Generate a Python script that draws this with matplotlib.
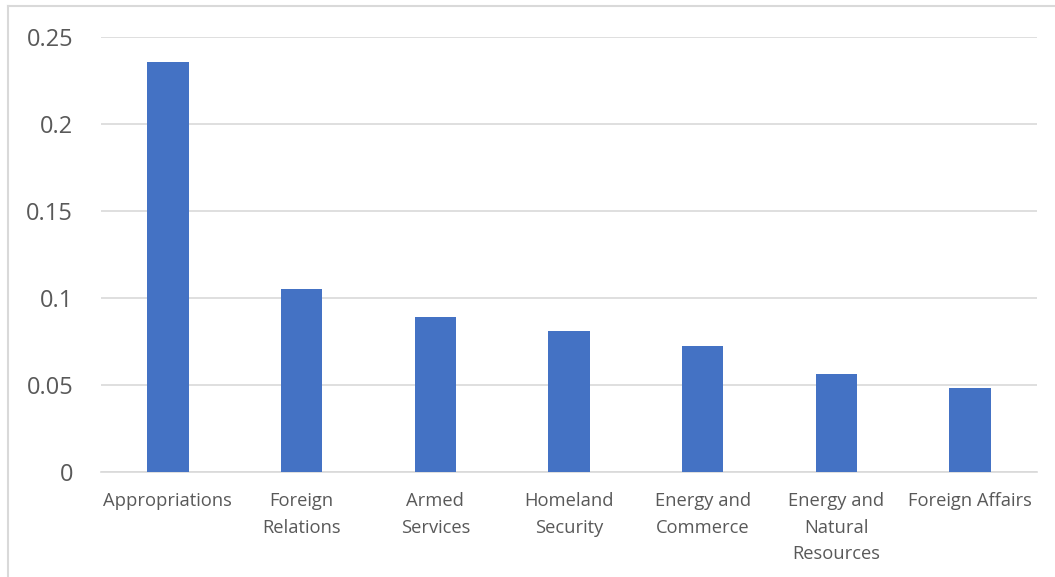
import matplotlib.pyplot as plt
from matplotlib.lines import Line2D

committees = ["Appropriations", "Foreign\nRelations", "Armed\nServices", "Homeland\nSecurity",
              "Energy and\nCommerce", "Energy and\nNatural\nResources", "Foreign Affairs"]
shares = [0.2355, 0.1052, 0.0891, 0.0810, 0.0724, 0.0563, 0.0483]
yticks = [0, 0.05, 0.1, 0.15, 0.2, 0.25]
ylabels = ["0", "0.05", "0.1", "0.15", "0.2", "0.25"]

plt.rcParams["font.family"] = ["Open Sans", "DejaVu Sans"]

fig = plt.figure(figsize=(10.55, 5.77), dpi=100)
ax = fig.add_axes([101 / 1055, 1 - 472 / 577, 936 / 1055, 435 / 577])

x = range(len(committees))
ax.bar(x, shares, width=0.31, color="#4472C4", zorder=3)

ax.set_xlim(-0.5, len(committees) - 0.5)
ax.set_ylim(0, 0.25)
ax.set_yticks(yticks, ylabels, fontsize=17, color="#595959")
ax.set_xticks(list(x), committees, fontsize=13.2, color="#595959", linespacing=1.6)
ax.tick_params(axis="both", length=0)
ax.tick_params(axis="y", pad=20)
ax.tick_params(axis="x", pad=14.5)

ax.grid(axis="y", color="#D9D9D9", lw=1.2, zorder=0)
for s in ["top", "right", "left"]:
    ax.spines[s].set_visible(False)
ax.spines["bottom"].set_color("#D9D9D9")
ax.spines["bottom"].set_linewidth(1.2)

# chart frame (only top and left edges visible in the crop)
fig.add_artist(Line2D([8 / 1055, 8 / 1055], [0, 1 - 6 / 577], color="#D9D9D9", lw=1.5))
fig.add_artist(Line2D([8 / 1055, 1], [1 - 6 / 577, 1 - 6 / 577], color="#D9D9D9", lw=1.5))

fig.savefig("out.png", dpi=100)
